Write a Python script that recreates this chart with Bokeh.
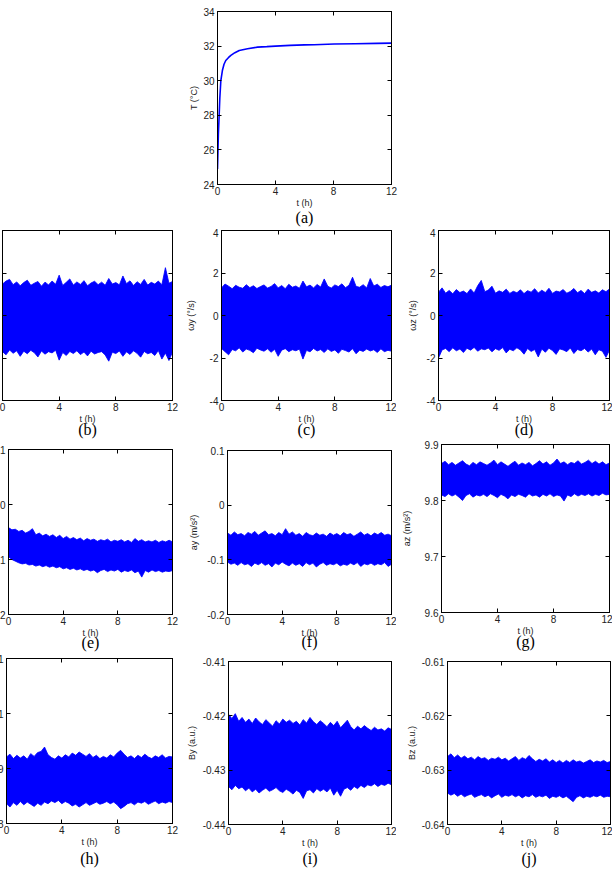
from bokeh.plotting import figure
from bokeh.models import (FixedTicker, LinearAxis, Range1d, Spacer,
                          CustomJSTickFormatter)
from bokeh.layouts import row, column
from bokeh.embed import file_html
from bokeh.resources import INLINE

# ---------------- data ----------------
X_TICKS = [0, 4, 8, 12]

# (a) temperature
T_HOURS = [0, 0.03, 0.06, 0.11, 0.16, 0.23, 0.34, 0.45, 0.57, 0.75, 0.92, 1.2,
           1.5, 2.07, 2.76, 3.4, 4.0, 5.0, 6.0, 6.67, 8.05, 9.5, 11.0, 12.0]
TEMP_C = [24.9, 25.9, 26.9, 27.9, 29.0, 30.0, 30.6, 30.95, 31.17, 31.33, 31.46, 31.62,
          31.75, 31.85, 31.94, 31.97, 32.0, 32.04, 32.07, 32.08, 32.12, 32.14, 32.16, 32.17]
TEMP_TICKS = [24, 26, 28, 30, 32, 34]

# sample times of the noise envelopes
T_NOISE = [0, 0.25, 0.5, 0.75, 1, 1.25, 1.5, 1.75, 2, 2.25, 2.5, 2.75, 3, 3.25,
           3.5, 3.75, 4, 4.25, 4.5, 4.75, 5, 5.25, 5.5, 5.75, 6, 6.25, 6.5, 6.75,
           7, 7.25, 7.5, 7.75, 8, 8.25, 8.5, 8.75, 9, 9.25, 9.5, 9.75, 10, 10.25,
           10.5, 10.75, 11, 11.25, 11.5, 11.75, 12]

# (b) gyro x (deg/s)
WX_HI = [1.48, 1.62, 1.70, 1.45, 1.58, 1.40, 1.55,
         1.66, 1.42, 1.52, 1.60, 1.38, 1.57, 1.44,
         1.62, 1.47, 1.90, 1.41, 1.56, 1.72, 1.43,
         1.58, 1.46, 1.64, 1.40, 1.53, 1.61, 1.45,
         1.57, 1.42, 1.74, 1.48, 1.55, 1.44, 1.86,
         1.50, 1.63, 1.41, 1.59, 1.46, 1.70, 1.43,
         1.56, 1.48, 1.62, 1.45, 2.25, 1.52, 1.60]
WX_LO = [-1.70, -1.85, -1.62, -1.78, -1.66, -1.92, -1.68,
         -1.80, -1.64, -1.75, -1.95, -1.67, -1.82, -1.70,
         -1.76, -1.63, -2.10, -1.74, -1.88, -1.69, -1.79,
         -1.66, -1.84, -1.72, -1.90, -1.68, -1.81, -1.74,
         -1.70, -1.86, -2.15, -1.73, -1.79, -1.67, -1.92,
         -1.71, -1.83, -1.66, -1.78, -1.96, -1.69, -1.80,
         -1.74, -1.88, -1.65, -2.05, -1.77, -2.12, -1.72]
# (c) gyro y
WY_HI = [1.30, 1.48, 1.38, 1.26, 1.42, 1.33, 1.28,
         1.45, 1.31, 1.40, 1.27, 1.36, 1.44, 1.29,
         1.37, 1.50, 1.30, 1.41, 1.26, 1.47, 1.33,
         1.39, 1.28, 1.62, 1.35, 1.43, 1.30, 1.46,
         1.34, 1.72, 1.38, 1.29, 1.44, 1.36, 1.49,
         1.31, 1.42, 1.80, 1.37, 1.33, 1.45, 1.30,
         1.74, 1.39, 1.47, 1.32, 1.41, 1.35, 1.43]
WY_LO = [-1.55, -1.70, -1.85, -1.60, -1.66, -1.52, -1.72,
         -1.58, -1.64, -1.75, -1.54, -1.62, -1.68, -1.57,
         -1.73, -1.59, -1.92, -1.63, -1.56, -1.70, -1.61,
         -1.66, -1.58, -2.05, -1.64, -1.71, -1.55, -1.67,
         -1.60, -1.74, -1.57, -1.69, -1.62, -1.78, -1.59,
         -1.65, -1.72, -1.56, -1.80, -1.63, -1.69, -1.58,
         -1.67, -1.61, -1.74, -1.57, -1.70, -1.64, -1.68]
# (d) gyro z
WZ_HI = [1.10, 1.30, 1.05, 1.18, 1.02, 1.22, 1.08,
         1.15, 1.03, 1.25, 1.06, 1.40, 1.65, 1.12,
         1.20, 1.38, 1.05, 1.16, 1.09, 1.24, 1.04,
         1.14, 1.07, 1.21, 1.03, 1.17, 1.10, 1.26,
         1.06, 1.19, 1.08, 1.28, 1.04, 1.15, 1.11,
         1.22, 1.05, 1.13, 1.27, 1.07, 1.18, 1.03,
         1.24, 1.09, 1.16, 1.06, 1.21, 1.12, 1.25]
WZ_LO = [-2.00, -1.62, -1.55, -1.70, -1.52, -1.66, -1.58,
         -1.74, -1.54, -1.63, -1.50, -1.68, -1.57, -1.61,
         -1.53, -1.71, -1.56, -1.64, -1.51, -1.76, -1.59,
         -1.66, -1.52, -1.62, -1.82, -1.55, -1.69, -1.60,
         -1.95, -1.58, -1.73, -1.54, -1.65, -1.83, -1.57,
         -1.62, -1.70, -1.53, -1.79, -1.60, -1.66, -1.55,
         -1.72, -1.58, -1.85, -1.61, -1.68, -1.97, -1.63]
GYRO_TICKS = [-4, -2, 0, 2, 4]

# (e) accel x (m/s^2)
AX_HI = [-0.042, -0.046, -0.045, -0.049, -0.047, -0.052, -0.049,
         -0.044, -0.055, -0.052, -0.057, -0.054, -0.058, -0.055,
         -0.060, -0.056, -0.062, -0.058, -0.063, -0.060, -0.064,
         -0.061, -0.066, -0.062, -0.065, -0.063, -0.067, -0.064,
         -0.066, -0.063, -0.068, -0.065, -0.067, -0.064, -0.068,
         -0.065, -0.069, -0.062, -0.067, -0.064, -0.068, -0.066,
         -0.068, -0.065, -0.069, -0.066, -0.068, -0.065, -0.068]
AX_LO = [-0.095, -0.100, -0.103, -0.106, -0.108, -0.107, -0.110,
         -0.109, -0.112, -0.110, -0.113, -0.111, -0.114, -0.112,
         -0.115, -0.113, -0.117, -0.115, -0.118, -0.116, -0.119,
         -0.117, -0.120, -0.118, -0.121, -0.119, -0.124, -0.120,
         -0.118, -0.122, -0.119, -0.121, -0.118, -0.123, -0.120,
         -0.122, -0.119, -0.124, -0.121, -0.132, -0.120, -0.123,
         -0.119, -0.122, -0.120, -0.123, -0.121, -0.122, -0.120]
# (f) accel y
AY_HI = [-0.051, -0.055, -0.049, -0.054, -0.052, -0.056, -0.050,
         -0.053, -0.048, -0.055, -0.051, -0.047, -0.054, -0.052,
         -0.056, -0.050, -0.054, -0.043, -0.053, -0.049, -0.055,
         -0.052, -0.057, -0.050, -0.054, -0.056, -0.051, -0.055,
         -0.053, -0.057, -0.051, -0.055, -0.052, -0.056, -0.050,
         -0.054, -0.052, -0.057, -0.053, -0.049, -0.055, -0.052,
         -0.056, -0.051, -0.054, -0.050, -0.055, -0.053, -0.056]
AY_LO = [-0.104, -0.108, -0.106, -0.110, -0.105, -0.109, -0.107,
         -0.112, -0.106, -0.109, -0.105, -0.110, -0.107, -0.113,
         -0.106, -0.109, -0.104, -0.108, -0.111, -0.106, -0.110,
         -0.107, -0.112, -0.105, -0.109, -0.106, -0.113, -0.108,
         -0.105, -0.110, -0.107, -0.109, -0.106, -0.111, -0.108,
         -0.110, -0.106, -0.109, -0.105, -0.112, -0.107, -0.109,
         -0.106, -0.110, -0.107, -0.109, -0.105, -0.112, -0.108]
ACC_XY_TICKS = [-0.2, -0.1, 0, 0.1]
# (g) accel z
AZ_HI = [9.866, 9.870, 9.864, 9.868, 9.863, 9.867, 9.871,
         9.865, 9.862, 9.868, 9.864, 9.869, 9.866, 9.863,
         9.867, 9.872, 9.864, 9.869, 9.865, 9.861, 9.866,
         9.870, 9.863, 9.867, 9.864, 9.868, 9.862, 9.866,
         9.871, 9.865, 9.869, 9.863, 9.867, 9.874, 9.866,
         9.869, 9.864, 9.868, 9.866, 9.871, 9.865, 9.868,
         9.872, 9.866, 9.870, 9.865, 9.869, 9.864, 9.867]
AZ_LO = [9.810, 9.807, 9.812, 9.808, 9.811, 9.806, 9.800,
         9.809, 9.812, 9.806, 9.810, 9.808, 9.811, 9.807,
         9.812, 9.809, 9.805, 9.811, 9.808, 9.803, 9.810,
         9.807, 9.811, 9.809, 9.806, 9.812, 9.808, 9.810,
         9.806, 9.811, 9.808, 9.812, 9.807, 9.810, 9.808,
         9.799, 9.810, 9.807, 9.812, 9.808, 9.811, 9.809,
         9.812, 9.808, 9.811, 9.809, 9.813, 9.810, 9.811]
ACC_Z_TICKS = [9.6, 9.7, 9.8, 9.9]

# (h) magnetometer x (a.u.)
BX_HI = [0.0921, 0.0926, 0.0918, 0.0924, 0.0919, 0.0923, 0.0917,
         0.0927, 0.0922, 0.0929, 0.0931, 0.0939, 0.0925, 0.0920,
         0.0917, 0.0923, 0.0919, 0.0925, 0.0921, 0.0928, 0.0924,
         0.0930, 0.0926, 0.0922, 0.0927, 0.0920, 0.0924, 0.0918,
         0.0922, 0.0919, 0.0925, 0.0921, 0.0928, 0.0933, 0.0926,
         0.0920, 0.0923, 0.0918, 0.0924, 0.0920, 0.0926, 0.0921,
         0.0918, 0.0923, 0.0920, 0.0925, 0.0919, 0.0922, 0.0921]
BX_LO = [0.0836, 0.0830, 0.0838, 0.0833, 0.0840, 0.0834, 0.0839,
         0.0835, 0.0831, 0.0837, 0.0833, 0.0839, 0.0836, 0.0841,
         0.0838, 0.0842, 0.0836, 0.0840, 0.0837, 0.0832, 0.0835,
         0.0830, 0.0834, 0.0838, 0.0833, 0.0836, 0.0839, 0.0835,
         0.0837, 0.0840, 0.0836, 0.0839, 0.0834, 0.0827, 0.0831,
         0.0836, 0.0838, 0.0834, 0.0839, 0.0837, 0.0840, 0.0835,
         0.0838, 0.0841, 0.0836, 0.0839, 0.0837, 0.0840, 0.0838]
MAG_X_TICKS = [0.08, 0.09, 0.1, 0.11]
# (i) magnetometer y
BY_HI = [-0.4197, -0.4205, -0.4196, -0.4210, -0.4203, -0.4212, -0.4206,
         -0.4214, -0.4204, -0.4211, -0.4216, -0.4207, -0.4213, -0.4219,
         -0.4209, -0.4215, -0.4206, -0.4212, -0.4208, -0.4214, -0.4210,
         -0.4217, -0.4207, -0.4213, -0.4203, -0.4211, -0.4216, -0.4209,
         -0.4214, -0.4220, -0.4212, -0.4218, -0.4210, -0.4222, -0.4215,
         -0.4208, -0.4220, -0.4226, -0.4219, -0.4224, -0.4218, -0.4223,
         -0.4227, -0.4221, -0.4226, -0.4224, -0.4228, -0.4222, -0.4225]
BY_LO = [-0.4330, -0.4336, -0.4328, -0.4334, -0.4331, -0.4338, -0.4333,
         -0.4340, -0.4335, -0.4342, -0.4337, -0.4333, -0.4339, -0.4336,
         -0.4332, -0.4338, -0.4341, -0.4335, -0.4339, -0.4344, -0.4337,
         -0.4341, -0.4352, -0.4338, -0.4336, -0.4342, -0.4334, -0.4339,
         -0.4335, -0.4340, -0.4333, -0.4346, -0.4337, -0.4348, -0.4335,
         -0.4332, -0.4337, -0.4330, -0.4334, -0.4328, -0.4332, -0.4327,
         -0.4329, -0.4325, -0.4330, -0.4326, -0.4328, -0.4324, -0.4327]
MAG_Y_TICKS = [-0.44, -0.43, -0.42, -0.41]
# (j) magnetometer z
BZ_HI = [-0.6275, -0.6270, -0.6277, -0.6272, -0.6278, -0.6274, -0.6279,
         -0.6276, -0.6281, -0.6275, -0.6279, -0.6277, -0.6282, -0.6278,
         -0.6280, -0.6276, -0.6281, -0.6278, -0.6283, -0.6279, -0.6275,
         -0.6282, -0.6277, -0.6280, -0.6273, -0.6279, -0.6284, -0.6280,
         -0.6283, -0.6279, -0.6285, -0.6281, -0.6286, -0.6282, -0.6287,
         -0.6282, -0.6286, -0.6281, -0.6285, -0.6283, -0.6287, -0.6284,
         -0.6281, -0.6286, -0.6283, -0.6285, -0.6282, -0.6286, -0.6284]
BZ_LO = [-0.6342, -0.6346, -0.6343, -0.6348, -0.6344, -0.6349, -0.6346,
         -0.6344, -0.6350, -0.6347, -0.6345, -0.6349, -0.6346, -0.6351,
         -0.6347, -0.6344, -0.6350, -0.6346, -0.6348, -0.6345, -0.6349,
         -0.6346, -0.6351, -0.6347, -0.6349, -0.6345, -0.6350, -0.6347,
         -0.6349, -0.6346, -0.6352, -0.6348, -0.6350, -0.6347, -0.6351,
         -0.6348, -0.6353, -0.6358, -0.6350, -0.6347, -0.6351, -0.6348,
         -0.6350, -0.6347, -0.6349, -0.6346, -0.6350, -0.6348, -0.6349]
MAG_Z_TICKS = [-0.64, -0.63, -0.62, -0.61]

for arr in (WX_HI, WX_LO, WY_HI, WY_LO, WZ_HI, WZ_LO, AX_HI, AX_LO, AY_HI, AY_LO,
            AZ_HI, AZ_LO, BX_HI, BX_LO, BY_HI, BY_LO, BZ_HI, BZ_LO):
    assert len(arr) == len(T_NOISE)

# ---------------- styling helpers ----------------
BLUE = "#0000ff"
INK = "#222222"
SANS = "Liberation Sans"
SERIF = "Liberation Serif"
FMT = "return String(Number(tick.toFixed(6)));"
BLANK = "return '';"


def make_panel(fw, fh, bl, br, bt, bb, yr, yticks, cap, cap_standoff,
               ylab=None, ylab_standoff=0):
    p = figure(frame_width=fw, frame_height=fh,
               min_border_left=bl, min_border_right=br,
               min_border_top=bt, min_border_bottom=bb,
               x_range=Range1d(0, 12), y_range=Range1d(*yr),
               x_axis_type=None, y_axis_type=None,
               output_backend="svg", toolbar_location=None)
    p.outline_line_color = "black"
    p.outline_line_alpha = 1.0
    p.outline_line_width = 1
    p.background_fill_color = "white"
    p.border_fill_color = "white"

    def axis(ticks, show):
        ax = LinearAxis(ticker=FixedTicker(ticks=ticks),
                        formatter=CustomJSTickFormatter(code=FMT if show else BLANK),
                        major_tick_in=4, major_tick_out=0,
                        minor_tick_line_color=None,
                        axis_line_color="black",
                        major_tick_line_color="black")
        if show:
            ax.major_label_text_font = SANS
            ax.major_label_text_font_size = "10px"
            ax.major_label_text_color = INK
            ax.major_label_standoff = 3
        else:
            ax.major_label_text_font_size = "1px"
            ax.major_label_standoff = 0
        return ax

    xb = axis(X_TICKS, True)
    xb.major_label_standoff = 2
    xb.axis_label = "t (h)"
    xb.axis_label_text_font = SANS
    xb.axis_label_text_font_size = "9px"
    xb.axis_label_text_font_style = "normal"
    xb.axis_label_text_color = INK
    xb.axis_label_standoff = 0
    p.add_layout(xb, "below")

    # sub-figure caption, e.g. "(b)", as the label of a tick-less axis under the t axis
    cap_ax = LinearAxis(ticker=FixedTicker(ticks=[]),
                        formatter=CustomJSTickFormatter(code=BLANK),
                        axis_line_color=None, major_tick_line_color=None,
                        minor_tick_line_color=None, major_tick_in=0, major_tick_out=0,
                        major_label_text_font_size="1px", major_label_standoff=0,
                        axis_label=cap, axis_label_text_font=SERIF,
                        axis_label_text_font_size="16px",
                        axis_label_text_font_style="normal",
                        axis_label_text_color="black",
                        axis_label_standoff=cap_standoff)
    p.add_layout(cap_ax, "below")

    yl = axis(yticks, True)
    if ylab is not None:
        yl.axis_label = ylab
        yl.axis_label_text_font = SANS
        yl.axis_label_text_font_size = "9px"
        yl.axis_label_text_font_style = "normal"
        yl.axis_label_text_color = INK
        yl.axis_label_standoff = ylab_standoff
    p.add_layout(yl, "left")
    p.add_layout(axis(X_TICKS, False), "above")
    p.add_layout(axis(yticks, False), "right")
    return p


def noise(p, hi, lo):
    p.varea(x=T_NOISE, y1=lo, y2=hi, fill_color=BLUE, fill_alpha=1.0)
    p.line(T_NOISE, hi, line_color=BLUE, line_width=1, line_alpha=0.85)
    p.line(T_NOISE, lo, line_color=BLUE, line_width=1, line_alpha=0.85)


# ---------------- panels ----------------
# column widths (page px; the whole layout is shifted 40 px left as in the cropped original)
# col1: 222, col2: 214, col3: 216 ; row heights: 228, 212, 213, 216
pa = make_panel(174, 173, 35, 20, 11, 44, (24, 34), TEMP_TICKS, "(a)", -2,
                ylab="T (°C)", ylab_standoff=1)
pa.line(T_HOURS, TEMP_C, line_color=BLUE, line_width=1.6)

# row 1
pb = make_panel(170, 170, 42, 10, 2, 40, (-4, 4), GYRO_TICKS, "(b)", -6)
noise(pb, WX_HI, WX_LO)
pc = make_panel(170, 170, 39, 5, 2, 40, (-4, 4), GYRO_TICKS, "(c)", -6,
                ylab="ωy (°/s)", ylab_standoff=11)
noise(pc, WY_HI, WY_LO)
pd = make_panel(171, 170, 42, 3, 2, 40, (-4, 4), GYRO_TICKS, "(d)", -6,
                ylab="ωz (°/s)", ylab_standoff=6)
noise(pd, WZ_HI, WZ_LO)

# row 2
pe = make_panel(164, 165, 48, 10, 9, 39, (-0.2, 0.1), ACC_XY_TICKS, "(e)", -7)
noise(pe, AX_HI, AX_LO)
pf = make_panel(164, 164, 45, 5, 10, 39, (-0.2, 0.1), ACC_XY_TICKS, "(f)", -8,
                ylab="ay (m/s²)", ylab_standoff=5)
noise(pf, AY_HI, AY_LO)
pg = make_panel(168, 168, 45, 3, 4, 41, (9.6, 9.9), ACC_Z_TICKS, "(g)", -6,
                ylab="az (m/s²)", ylab_standoff=10)
noise(pg, AZ_HI, AZ_LO)

# row 3
ph = make_panel(166, 165, 46, 10, 5, 46, (0.08, 0.11), MAG_X_TICKS, "(h)", 0)
noise(ph, BX_HI, BX_LO)
pi_ = make_panel(163, 163, 46, 5, 8, 45, (-0.44, -0.41), MAG_Y_TICKS, "(i)", -1,
                 ylab="By (a.u.)", ylab_standoff=3)
noise(pi_, BY_HI, BY_LO)
pj = make_panel(163, 163, 51, 2, 8, 45, (-0.64, -0.61), MAG_Z_TICKS, "(j)", -1,
                ylab="Bz (a.u.)", ylab_standoff=2)
noise(pj, BZ_HI, BZ_LO)

# each sub-figure sits in its own box so frames are not aligned across a row
root = column(
    row(Spacer(width=222, height=228), column(pa)),
    row(column(pb), column(pc), column(pd)),
    row(column(pe), column(pf), column(pg)),
    row(column(ph), column(pi_), column(pj)),
    margin=(0, 0, 0, -40),
)

open("out.html", "w").write(file_html(root, INLINE))
